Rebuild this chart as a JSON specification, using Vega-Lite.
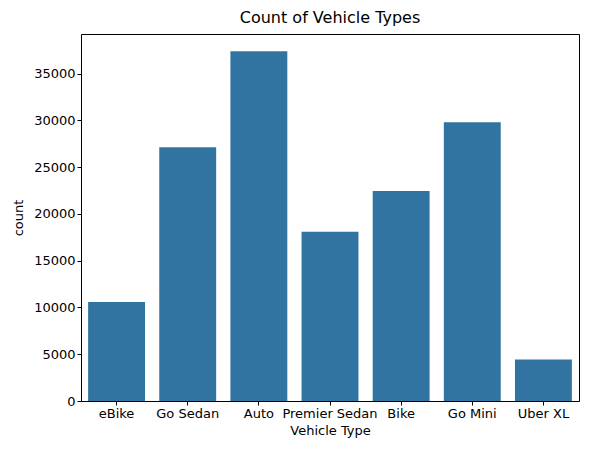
{
  "$schema": "https://vega.github.io/schema/vega-lite/v6.json",
  "width": 498,
  "height": 367,
  "autosize": "none",
  "padding": {"left": 81, "top": 34, "right": 10, "bottom": 54},
  "background": "white",
  "title": {"text": "Count of Vehicle Types", "font": "DejaVu Sans", "fontSize": 16, "fontWeight": "normal", "color": "black", "offset": 8},
  "data": {
    "values": [
      {"type": "eBike", "count": 10600},
      {"type": "Go Sedan", "count": 27150},
      {"type": "Auto", "count": 37400},
      {"type": "Premier Sedan", "count": 18100},
      {"type": "Bike", "count": 22450},
      {"type": "Go Mini", "count": 29800},
      {"type": "Uber XL", "count": 4450}
    ]
  },
  "mark": {"type": "bar", "color": "#3274a1"},
  "encoding": {
    "x": {
      "field": "type", "type": "nominal", "sort": null, "title": "Vehicle Type",
      "scale": {"paddingInner": 0.2, "paddingOuter": 0.1},
      "axis": {"labelAngle": 0, "titlePadding": 4}
    },
    "y": {
      "field": "count", "type": "quantitative", "title": "count",
      "scale": {"domain": [0, 39250], "nice": false},
      "axis": {"values": [0, 5000, 10000, 15000, 20000, 25000, 30000, 35000], "format": "d", "titlePadding": 8}
    }
  },
  "config": {
    "view": {"stroke": "black", "strokeWidth": 1},
    "axis": {
      "grid": false, "domain": false, "tickColor": "black", "tickSize": 4,
      "labelFont": "DejaVu Sans", "labelFontSize": 13, "labelColor": "black",
      "titleFont": "DejaVu Sans", "titleFontSize": 13, "titleFontWeight": "normal", "titleColor": "black"
    }
  }
}
